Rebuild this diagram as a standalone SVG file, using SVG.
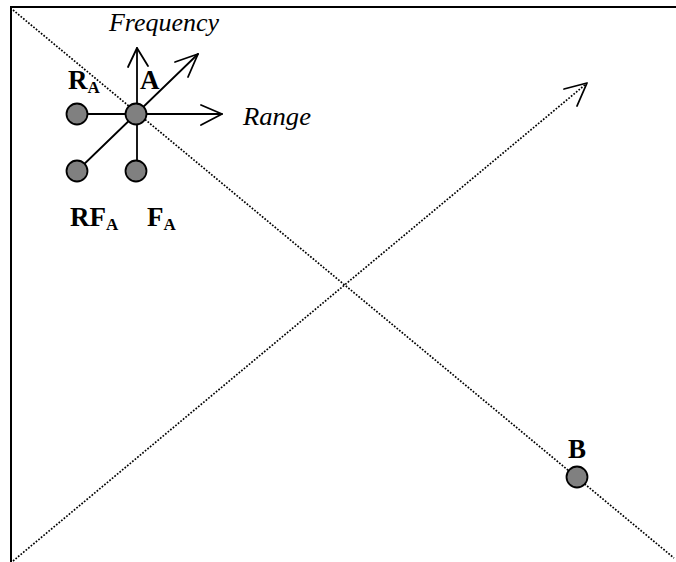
<svg xmlns="http://www.w3.org/2000/svg" width="676" height="562" viewBox="0 0 676 562">
<style>
.frame{fill:none;stroke:#000;stroke-width:2}
.dot{fill:none;stroke:#000;stroke-width:1.7;stroke-dasharray:1.7 1.6}
.ax{fill:none;stroke:#000;stroke-width:1.8;stroke-linecap:round;stroke-linejoin:round}
.node{fill:#808080;stroke:#000;stroke-width:1.8}
.lbl{font-family:"Liberation Serif",serif;font-weight:bold;font-size:27px;fill:#000}
.sub{font-size:17px}
.it{font-family:"Liberation Serif",serif;font-style:italic;font-size:25px;fill:#000}
</style>
<rect class="frame" x="11" y="7" width="700" height="600"/>
<g id="connectors">
<line class="dot" x1="13" y1="10" x2="674" y2="558"/>
<line class="dot" x1="13" y1="561" x2="586" y2="84"/>
<polyline class="ax" points="564,89 587,83 577,106"/>
<line class="ax" x1="77" y1="114" x2="222" y2="114"/>
<polyline class="ax" points="201,105 222,114 201,125"/>
<line class="ax" x1="137" y1="171" x2="137" y2="48"/>
<polyline class="ax" points="128,67 137,48 148,66"/>
<line class="ax" x1="77" y1="171" x2="198" y2="54"/>
<polyline class="ax" points="175,62 198,54 188,77"/>
</g>
<g id="axis-labels">
<text class="it" x="109" y="31" textLength="110" lengthAdjust="spacingAndGlyphs">Frequency</text>
<text class="it" x="243" y="125" textLength="68" lengthAdjust="spacingAndGlyphs">Range</text>
</g>
<g id="RA">
<circle class="node" cx="77" cy="114" r="10.5"/>
<text class="lbl" x="68" y="89">R<tspan class="sub" dy="4">A</tspan></text>
</g>
<g id="A">
<circle class="node" cx="136" cy="114" r="10.5"/>
<text class="lbl" x="140" y="89">A</text>
</g>
<g id="RFA">
<circle class="node" cx="77" cy="171" r="10.5"/>
<text class="lbl" x="70" y="226">RF<tspan class="sub" dy="4">A</tspan></text>
</g>
<g id="FA">
<circle class="node" cx="136" cy="171" r="10.5"/>
<text class="lbl" x="147" y="226">F<tspan class="sub" dy="4">A</tspan></text>
</g>
<g id="B">
<circle class="node" cx="577" cy="477" r="10.5"/>
<text class="lbl" x="568" y="458">B</text>
</g>
</svg>
